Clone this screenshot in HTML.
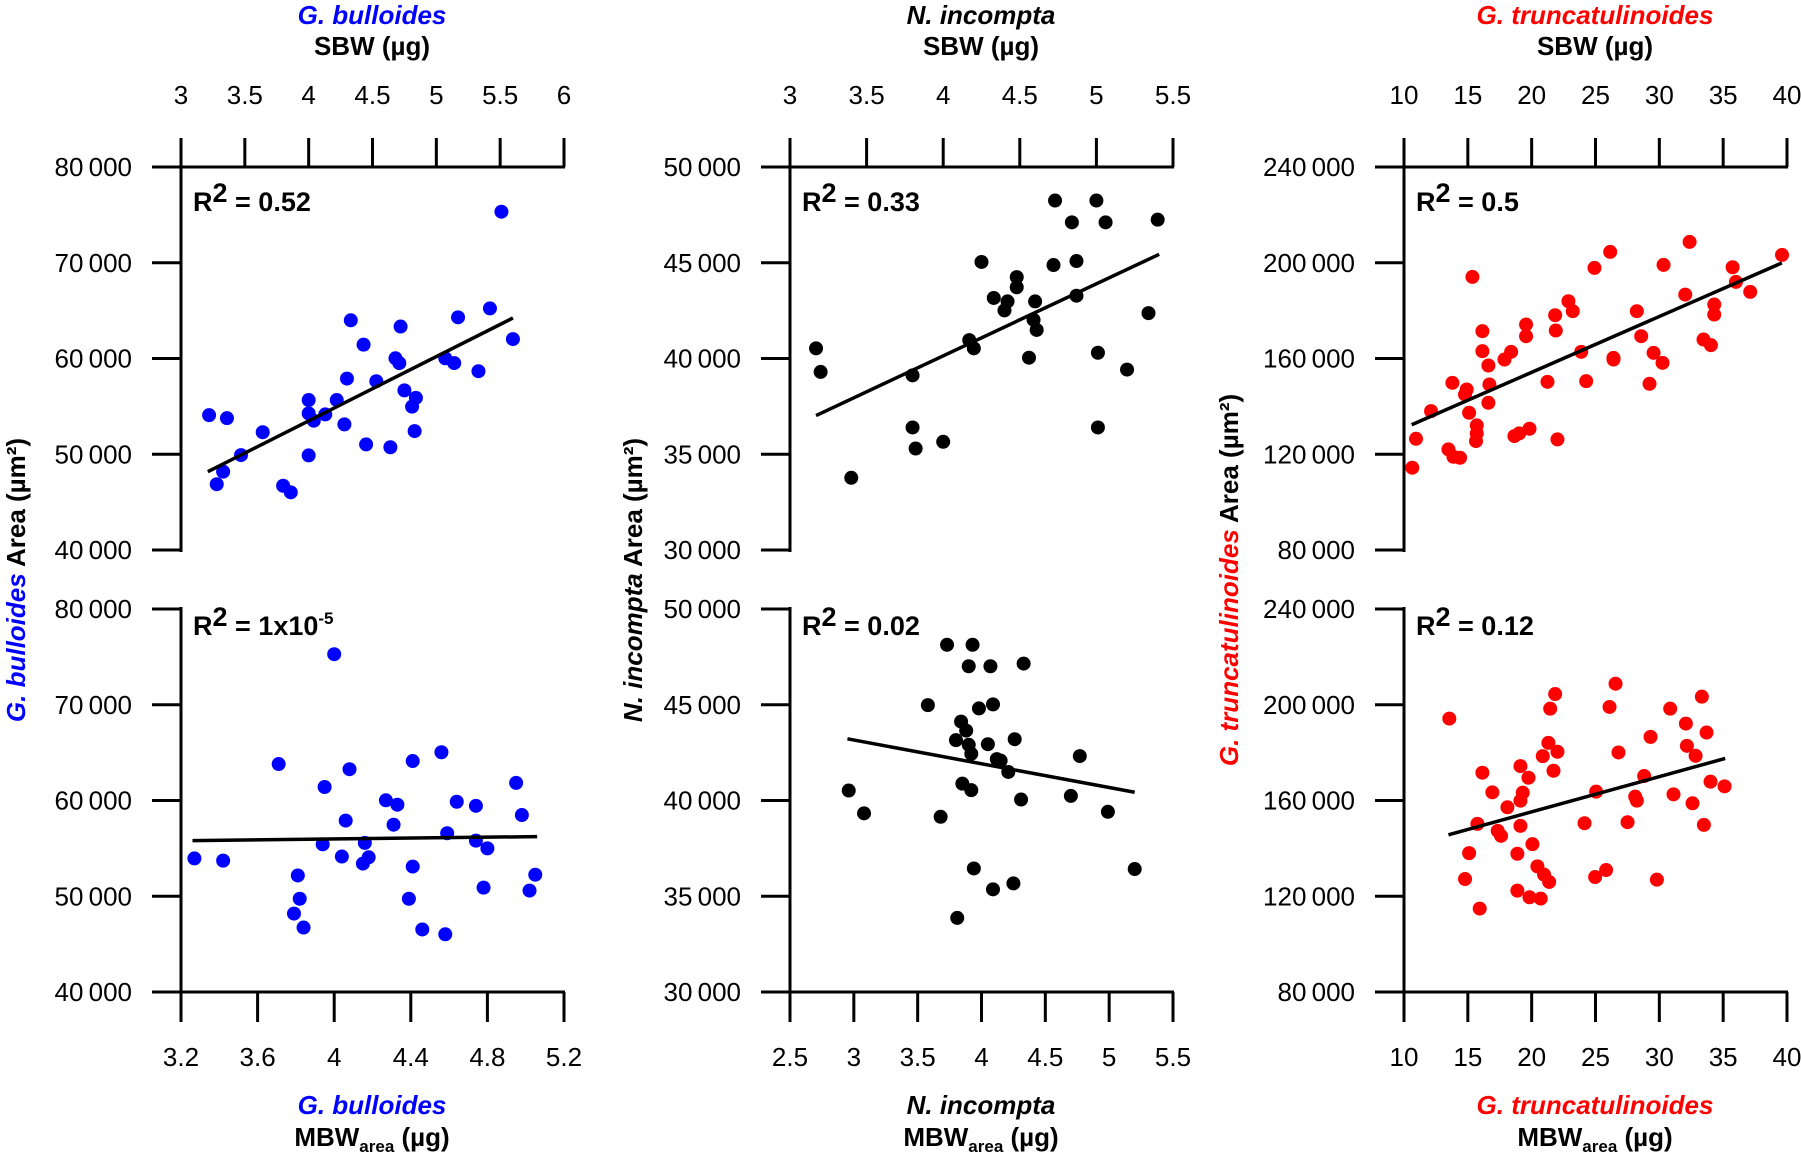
<!DOCTYPE html>
<html><head><meta charset="utf-8">
<style>
html,body{margin:0;padding:0;background:#fff;}
svg{display:block;font-family:"Liberation Sans",Arial,sans-serif;}
</style></head>
<body>
<svg id="chart" width="1801" height="1152" viewBox="0 0 1801 1152" xmlns="http://www.w3.org/2000/svg">
<g font-weight="bold" font-size="26" text-anchor="middle">
  <text x="372" y="24" fill="#0000ff" font-style="italic">G. bulloides</text>
  <text x="372" y="55">SBW (µg)</text>
  <text x="981" y="24" font-style="italic">N. incompta</text>
  <text x="981" y="55">SBW (µg)</text>
  <text x="1595" y="24" fill="#f00" font-style="italic">G. truncatulinoides</text>
  <text x="1595" y="55">SBW (µg)</text>
  <text x="372" y="1114" fill="#0000ff" font-style="italic">G. bulloides</text>
  <text x="372" y="1146">MBW<tspan font-size="17" dy="6">area</tspan><tspan dy="-6"> (µg)</tspan></text>
  <text x="981" y="1114" font-style="italic">N. incompta</text>
  <text x="981" y="1146">MBW<tspan font-size="17" dy="6">area</tspan><tspan dy="-6"> (µg)</tspan></text>
  <text x="1595" y="1114" fill="#f00" font-style="italic">G. truncatulinoides</text>
  <text x="1595" y="1146">MBW<tspan font-size="17" dy="6">area</tspan><tspan dy="-6"> (µg)</tspan></text>
  <text transform="translate(25,580) rotate(-90)"><tspan fill="#0000ff" font-style="italic">G. bulloides</tspan> Area (µm²)</text>
  <text transform="translate(642,580) rotate(-90)"><tspan font-style="italic">N. incompta</tspan> Area (µm²)</text>
  <text transform="translate(1238,580) rotate(-90)"><tspan fill="#f00" font-style="italic">G. truncatulinoides</tspan> Area (µm²)</text>
</g>
</svg>
<script>
// ---- Panel 1: G. bulloides SBW ----
const p1X = [3.22,3.36,3.28,3.33,3.47,3.64,3.80,3.86,4.0,4.0,4.0,4.04,4.13,4.22,4.28,4.30,4.33,4.43,4.45,4.53,4.64,4.68,4.71,4.72,4.75,4.84,4.81,4.83,5.07,5.14,5.17,5.33,5.42,5.51,5.60];
const p1Y = [54080,53770,46870,48180,49910,52300,46710,46020,55660,54270,49880,53500,54160,55660,53120,57900,63990,61450,51030,57630,50730,60020,59520,63340,56670,55890,54970,52420,60020,59520,64300,58670,65230,75330,62030];
const p1LineX = [3.21,5.60];
const p1LineY = [48180,64230];
const p1XTicks = [3,3.5,4,4.5,5,5.5,6];
const p1YTicks = [40000,50000,60000,70000,80000];
// ---- Panel 2: G. bulloides MBW ----
const p2X = [3.27,3.42,3.71,3.81,3.82,3.79,3.84,3.95,3.94,4.00,4.06,4.08,4.04,4.16,4.15,4.18,4.27,4.33,4.31,4.41,4.41,4.39,4.46,4.56,4.59,4.58,4.64,4.74,4.74,4.80,4.78,4.95,4.98,5.05,5.02];
const p2Y = [53950,53720,63810,52170,49740,48190,46730,61410,55420,75280,57900,63270,54150,55570,53410,54070,60020,59560,57470,64120,53100,49740,46530,65040,56580,46030,59870,59440,55810,55000,50900,61840,58480,52250,50590];
const p2LineX = [3.26,5.06];
const p2LineY = [55810,56230];
const p2XTicks = [3.2,3.6,4,4.4,4.8,5.2];
const p2YTicks = [40000,50000,60000,70000,80000];
// ---- Panel 3: N. incompta SBW ----
const p3X = [3.17,3.20,3.40,3.80,3.80,3.82,4.00,4.17,4.20,4.25,4.33,4.40,4.42,4.48,4.48,4.56,4.60,4.59,4.61,4.72,4.73,4.84,4.87,4.87,5.00,5.01,5.01,5.06,5.20,5.34,5.40];
const p3Y = [40530,39300,33770,39120,36400,35300,35650,40960,40530,45040,43160,42510,42980,44250,43720,40040,42980,42020,41490,44880,48250,47110,45090,43280,48250,40300,36400,47110,39420,42370,47250];
const p3LineX = [3.17,5.41];
const p3LineY = [37020,45440];
const p3XTicks = [3,3.5,4,4.5,5,5.5];
const p3YTicks = [30000,35000,40000,45000,50000];
// ---- Panel 4: N. incompta MBW ----
const p4X = [2.96,3.08,3.58,3.68,3.73,3.93,3.90,4.07,4.33,3.98,4.09,3.84,3.88,3.80,3.90,3.92,4.05,4.26,4.12,4.15,4.21,4.77,3.85,3.92,4.31,4.70,4.99,3.94,4.09,4.25,5.20,3.81];
const p4Y = [40520,39330,44980,39150,48130,48130,47010,47010,47150,44810,45020,44120,43650,43150,42910,42440,42940,43200,42160,42080,41490,42320,40880,40540,40050,40240,39410,36450,35360,35670,36420,33870];
const p4LineX = [2.95,5.20];
const p4LineY = [43220,40430];
const p4XTicks = [2.5,3,3.5,4,4.5,5,5.5];
const p4YTicks = [30000,35000,40000,45000,50000];
// ---- Panel 5: G. truncatulinoides SBW ----
const p5X = [10.65,10.94,12.12,13.79,13.48,13.87,14.39,14.91,14.78,15.10,15.36,15.70,15.70,15.64,16.14,16.14,16.61,16.69,16.61,17.87,18.39,18.65,19.02,19.83,19.56,19.56,21.24,21.84,21.89,22.02,22.88,23.22,23.88,24.27,24.92,26.15,26.41,26.41,28.24,28.58,29.23,29.55,30.25,30.33,32.03,32.37,33.46,34.04,34.30,34.30,35.74,36.00,37.12,39.61];
const p5Y = [114370,126470,138020,149840,122020,118960,118540,147060,144980,137320,194090,132040,128700,125500,171410,163060,157080,149150,141500,159580,162780,127580,128700,130650,174190,169320,150260,178090,171690,126190,183930,179760,162780,150540,197840,204520,160280,159580,179760,169320,149430,162360,158190,199100,186710,208700,167930,165570,182540,178370,198120,192000,187830,203270];
const p5LineX = [10.6,39.6];
const p5LineY = [132310,199930];
const p5XTicks = [10,15,20,25,30,35,40];
const p5YTicks = [80000,120000,160000,200000,240000];
// ---- Panel 6: G. truncatulinoides MBW ----
const p6X = [13.55,14.78,15.10,15.93,15.75,16.14,16.92,17.34,17.60,18.10,18.88,18.88,19.12,19.12,19.12,19.30,19.75,19.83,20.06,20.45,20.71,20.87,20.97,21.31,21.37,21.45,21.71,21.84,22.02,24.14,24.97,25.05,25.83,26.10,26.57,26.80,27.51,28.11,28.24,28.81,29.31,29.81,30.85,31.11,32.08,32.16,32.60,32.84,33.33,33.49,33.70,34.01,35.11];
const p6Y = [194210,127200,138020,114850,150230,171600,163410,147320,145240,157170,137750,122350,174370,149400,159940,163270,169520,119570,141770,132480,119020,178540,129010,184090,125960,198370,172430,204480,180340,150510,128030,163690,130940,199070,208780,180060,150930,161610,159940,170210,186580,126930,198370,162580,192140,182840,158840,178680,203370,149820,188390,167860,165910];
const p6LineX = [13.48,35.16];
const p6LineY = [145660,177570];
const p6XTicks = [10,15,20,25,30,35,40];
const p6YTicks = [80000,120000,160000,200000,240000];

const NS = 'http://www.w3.org/2000/svg';
const svg = document.getElementById('chart');
function mk(tag, attrs, parent){const e=document.createElementNS(NS,tag);for(const k in attrs)e.setAttribute(k,attrs[k]);parent.appendChild(e);return e;}
function fmtY(v){const s=String(v);return s.length>3?s.slice(0,-3)+'\u2009'+s.slice(-3):s;}

function panel(name, x0, y0, xs, ys, lx, ly, xt, yt, color, top, r2, r2sup){
  const W=383,H=383;
  const xmin=xt[0], xmax=xt[xt.length-1], ymin=yt[0], ymax=yt[yt.length-1];
  const sx=v=>x0+(v-xmin)/(xmax-xmin)*W;
  const sy=v=>y0+H-(v-ymin)/(ymax-ymin)*H;
  const g=mk('g',{},svg);
  
  
  const ax=mk('g',{stroke:'#000','stroke-width':3,fill:'none'},g);
  
  
  mk('line',{x1:x0,y1:y0-(top?0:2),x2:x0,y2:y0+H+(top?2:0)},ax);
  const axY = top? y0 : y0+H;
  mk('line',{x1:x0-1,y1:axY,x2:x0+W+1,y2:axY},ax);
  yt.forEach(v=>{
    mk('line',{x1:x0-29,y1:sy(v),x2:x0,y2:sy(v)},ax);
    const t=mk('text',{x:x0-49,y:sy(v)+9,'font-size':26,'text-anchor':'end',fill:'#000',stroke:'none'},g);
    
    
    t.textContent=fmtY(v);
  });
  xt.forEach(v=>{
    if(top) mk('line',{x1:sx(v),y1:y0-29,x2:sx(v),y2:y0},ax);
    else mk('line',{x1:sx(v),y1:y0+H,x2:sx(v),y2:y0+H+30},ax);
    const t=mk('text',{x:sx(v),y:top?104:1066,'font-size':26,'text-anchor':'middle',fill:'#000'},g);
    
    
    t.textContent=String(v);
  });
  const pts=mk('g',{fill:color},g);
  
  
  xs.forEach((v,i)=>{
    const c=mk('circle',{cx:sx(v),cy:sy(ys[i]),r:7},pts);
    
    
  });
  const ln=mk('line',{x1:sx(lx[0]),y1:sy(ly[0]),x2:sx(lx[1]),y2:sy(ly[1]),stroke:'#000','stroke-width':3.5},g);
  
  
  const rt=mk('text',{x:x0+12,y:top?y0+44:y0+26,'font-size':27,'font-weight':'bold',fill:'#000'},g);
  
  
  rt.innerHTML='R<tspan dy="-9" font-size="27">2</tspan><tspan dy="9"> = '+r2+'</tspan>'+(r2sup?'<tspan dy="-11" font-size="17">'+r2sup+'</tspan>':'');
}
panel('panel-bulloides-sbw',181,167,p1X,p1Y,p1LineX,p1LineY,p1XTicks,p1YTicks,'#0000ff',true,'0.52','');
panel('panel-bulloides-mbw',181,609,p2X,p2Y,p2LineX,p2LineY,p2XTicks,p2YTicks,'#0000ff',false,'1x10','-5');
panel('panel-incompta-sbw',790,167,p3X,p3Y,p3LineX,p3LineY,p3XTicks,p3YTicks,'#000',true,'0.33','');
panel('panel-incompta-mbw',790,609,p4X,p4Y,p4LineX,p4LineY,p4XTicks,p4YTicks,'#000',false,'0.02','');
panel('panel-truncatulinoides-sbw',1404,167,p5X,p5Y,p5LineX,p5LineY,p5XTicks,p5YTicks,'#f00',true,'0.5','');
panel('panel-truncatulinoides-mbw',1404,609,p6X,p6Y,p6LineX,p6LineY,p6XTicks,p6YTicks,'#f00',false,'0.12','');
</script>
</body></html>
